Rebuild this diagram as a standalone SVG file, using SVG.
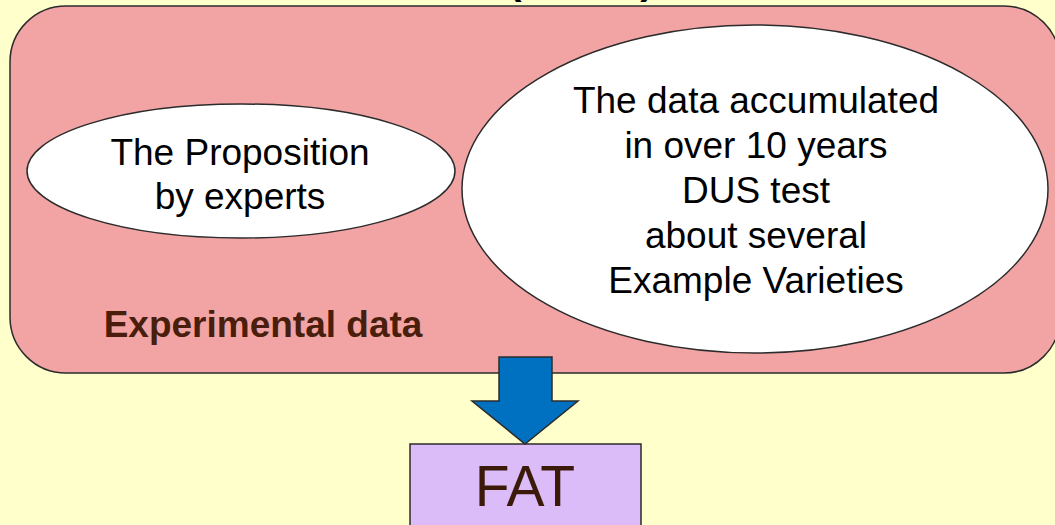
<svg xmlns="http://www.w3.org/2000/svg" width="1055" height="525" viewBox="0 0 1055 525">
  <style>
    .outline { stroke: #2b2b2b; stroke-width: 1.5; }
    .label { font-family: "Liberation Sans", Arial, sans-serif; fill: #000000; text-anchor: middle; }
    .body { font-size: 37px; }
    .caption { font-size: 37px; font-weight: bold; fill: #4a1e0c; }
    .title { font-size: 40px; font-weight: bold; }
  </style>

  <!-- page background -->
  <rect x="0" y="0" width="1055" height="525" fill="#ffffcc"/>

  <!-- heading, mostly above the visible area -->
  <text class="label title" x="515" y="-6">(</text>
  <text class="label title" x="647" y="-6">)</text>

  <!-- experimental data container -->
  <g id="experimental-data">
    <rect class="outline" x="10" y="6" width="1050" height="367" rx="56" ry="56" fill="#f2a4a5"/>
    <text class="label caption" x="263" y="337">Experimental data</text>
  </g>

  <g id="proposition">
    <ellipse class="outline" cx="241" cy="171" rx="214" ry="67" fill="#ffffff"/>
    <text class="label body" x="240" y="165">The Proposition</text>
    <text class="label body" x="240" y="209">by experts</text>
  </g>

  <g id="accumulated-data">
    <ellipse class="outline" cx="755" cy="189" rx="293" ry="164" fill="#ffffff"/>
    <text class="label body" x="756" y="113">The data accumulated</text>
    <text class="label body" x="756" y="158">in over 10 years</text>
    <text class="label body" x="756" y="203">DUS test</text>
    <text class="label body" x="756" y="248">about several</text>
    <text class="label body" x="756" y="293">Example Varieties</text>
  </g>

  <g id="fat">
    <rect class="outline" x="410" y="444" width="231" height="90" fill="#dcbcf8"/>
    <text class="label" x="525" y="506" style="font-size:57px; fill:#3b1a0a">FAT</text>
  </g>

  <!-- connectors -->
  <g id="connectors">
    <path class="outline" d="M499,357 L552,357 L552,401 L578,401 L525,444 L472,401 L499,401 Z" fill="#0070c0"/>
  </g>
</svg>
